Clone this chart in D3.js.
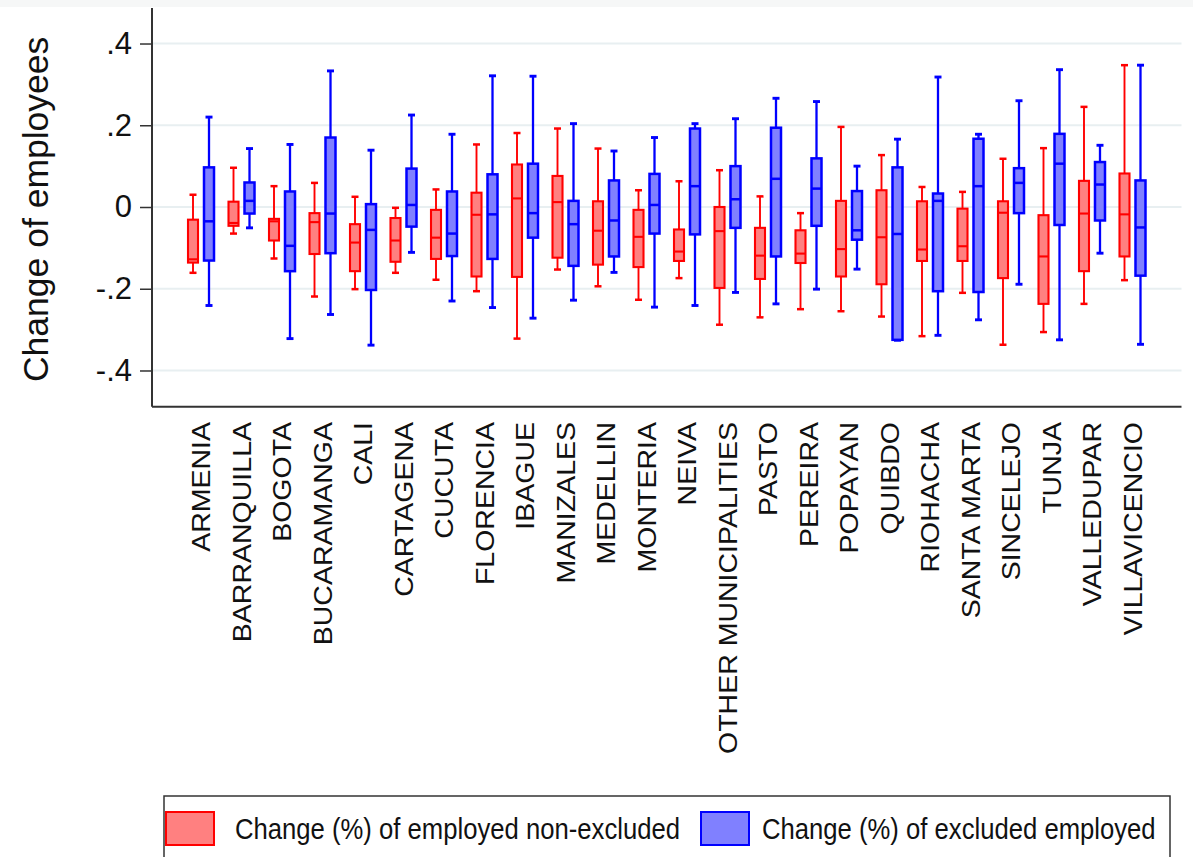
<!DOCTYPE html>
<html>
<head>
<meta charset="utf-8">
<script src="https://cdn.jsdelivr.net/npm/d3@7"></script>
<style>
  body { margin: 0; background: #ffffff; }
  svg { display: block; }
  text { font-family: "Liberation Sans", Arial, sans-serif; fill: #111111; }
</style>
</head>
<body>
<svg id="chart" width="1193" height="857"></svg>
<script>
// Cities (and the rest of the country) on the x axis
const categories = [
  "ARMENIA", "BARRANQUILLA", "BOGOTA", "BUCARAMANGA", "CALI", "CARTAGENA",
  "CUCUTA", "FLORENCIA", "IBAGUE", "MANIZALES", "MEDELLIN", "MONTERIA",
  "NEIVA", "OTHER MUNICIPALITIES", "PASTO", "PEREIRA", "POPAYAN", "QUIBDO",
  "RIOHACHA", "SANTA MARTA", "SINCELEJO", "TUNJA", "VALLEDUPAR", "VILLAVICENCIO"
];

// Change (%) of employed non-excluded: upper whisker, Q3, median, Q1, lower whisker
const nonExclHigh = [0.030, 0.096, 0.051, 0.059, 0.025, -0.002, 0.043, 0.153, 0.181, 0.192, 0.143, 0.041,
                     0.063, 0.090, 0.026, -0.015, 0.196, 0.127, 0.049, 0.037, 0.118, 0.144, 0.245, 0.347];
const nonExclQ3   = [-0.031, 0.013, -0.029, -0.015, -0.042, -0.027, -0.007, 0.035, 0.104, 0.076, 0.014, -0.007,
                     -0.055, 0.000, -0.051, -0.057, 0.015, 0.041, 0.014, -0.004, 0.014, -0.020, 0.064, 0.082];
const nonExclMed  = [-0.128, -0.039, -0.035, -0.037, -0.087, -0.082, -0.075, -0.019, 0.021, 0.012, -0.058, -0.073,
                     -0.109, -0.059, -0.119, -0.114, -0.103, -0.074, -0.104, -0.096, -0.014, -0.121, -0.016, -0.018];
const nonExclQ1   = [-0.136, -0.046, -0.082, -0.115, -0.157, -0.134, -0.127, -0.170, -0.171, -0.124, -0.141, -0.147,
                     -0.132, -0.198, -0.176, -0.137, -0.170, -0.189, -0.132, -0.132, -0.174, -0.237, -0.157, -0.121];
const nonExclLow  = [-0.161, -0.065, -0.126, -0.219, -0.201, -0.161, -0.178, -0.206, -0.322, -0.153, -0.194, -0.227,
                     -0.174, -0.288, -0.270, -0.250, -0.255, -0.268, -0.316, -0.210, -0.337, -0.306, -0.237, -0.179];

// Change (%) of excluded employed: upper whisker, Q3, median, Q1, lower whisker
const exclHigh = [0.220, 0.143, 0.153, 0.333, 0.139, 0.225, 0.178, 0.321, 0.320, 0.204, 0.137, 0.170,
                  0.204, 0.216, 0.266, 0.258, 0.100, 0.166, 0.318, 0.178, 0.260, 0.336, 0.151, 0.347];
const exclQ3   = [0.097, 0.060, 0.038, 0.170, 0.007, 0.094, 0.038, 0.080, 0.106, 0.015, 0.065, 0.081,
                  0.192, 0.100, 0.194, 0.119, 0.039, 0.097, 0.033, 0.167, 0.095, 0.179, 0.110, 0.065];
const exclMed  = [-0.035, 0.015, -0.095, -0.016, -0.056, 0.005, -0.065, -0.018, -0.015, -0.042, -0.033, 0.005,
                  0.051, 0.019, 0.069, 0.045, -0.057, -0.066, 0.015, 0.051, 0.059, 0.106, 0.055, -0.050];
const exclQ1   = [-0.131, -0.016, -0.157, -0.113, -0.203, -0.048, -0.120, -0.127, -0.075, -0.144, -0.121, -0.065,
                  -0.067, -0.051, -0.121, -0.046, -0.080, -0.325, -0.206, -0.208, -0.015, -0.044, -0.033, -0.168];
const exclLow  = [-0.241, -0.051, -0.322, -0.263, -0.338, -0.111, -0.230, -0.246, -0.272, -0.228, -0.160, -0.245,
                  -0.241, -0.209, -0.237, -0.201, -0.152, -0.326, -0.314, -0.276, -0.189, -0.325, -0.113, -0.336];

// Y axis ticks and their labels
const yTicks = [-0.4, -0.2, 0, 0.2, 0.4];
const yTickLabels = ["-.4", "-.2", "0", ".2", ".4"];

const seriesNames = ["Change (%) of employed non-excluded", "Change (%) of excluded employed"];
const yTitle = "Change of employees";

const series = [
  { name: seriesNames[0], stroke: "#ff0000", fill: "#ff8080", offset: -8, sw: 1.9,
    high: nonExclHigh, q3: nonExclQ3, med: nonExclMed, q1: nonExclQ1, low: nonExclLow },
  { name: seriesNames[1], stroke: "#0000ff", fill: "#8080ff", offset: 8, sw: 2.3,
    high: exclHigh, q3: exclQ3, med: exclMed, q1: exclQ1, low: exclLow }
];

const svg = d3.select("#chart");
const plot = { left: 152, right: 1181.5, top: 8, bottom: 406.7 };

const x = d3.scalePoint().domain(categories).range([plot.left, plot.right]).padding(1.21);
const y = d3.scaleLinear().domain([-0.4886, 0.4869]).range([plot.bottom, plot.top]);

// light band at the very top of the graph region
svg.append("rect").attr("x", 0).attr("y", 0).attr("width", 1193).attr("height", 7).attr("fill", "#f6f7f7");

// horizontal grid lines
svg.append("g").selectAll("line").data(yTicks).join("line")
  .attr("x1", plot.left).attr("x2", plot.right)
  .attr("y1", d => y(d)).attr("y2", d => y(d))
  .attr("stroke", "#e8eff1").attr("stroke-width", 2);

// box plots: whiskers with caps, box from Q1 to Q3, median line
const boxW = 10, capW = 7;
series.forEach(s => {
  const g = svg.append("g");
  categories.forEach((c, i) => {
    const cx = x(c) + s.offset;
    g.append("line").attr("x1", cx).attr("x2", cx).attr("y1", y(s.high[i])).attr("y2", y(s.q3[i]))
      .attr("stroke", s.stroke).attr("stroke-width", s.sw);
    g.append("line").attr("x1", cx).attr("x2", cx).attr("y1", y(s.q1[i])).attr("y2", y(s.low[i]))
      .attr("stroke", s.stroke).attr("stroke-width", s.sw);
    [s.high[i], s.low[i]].forEach(v => {
      g.append("line").attr("x1", cx - capW / 2).attr("x2", cx + capW / 2)
        .attr("y1", y(v)).attr("y2", y(v))
        .attr("stroke", s.stroke).attr("stroke-width", s.sw + 0.6);
    });
    g.append("rect").attr("x", cx - boxW / 2).attr("width", boxW)
      .attr("y", y(s.q3[i])).attr("height", Math.max(1, y(s.q1[i]) - y(s.q3[i])))
      .attr("fill", s.fill).attr("stroke", s.stroke).attr("stroke-width", s.sw + 0.2);
    g.append("line").attr("x1", cx - boxW / 2).attr("x2", cx + boxW / 2)
      .attr("y1", y(s.med[i])).attr("y2", y(s.med[i]))
      .attr("stroke", s.stroke).attr("stroke-width", s.sw + 0.2);
  });
});

// y axis
const yAxis = svg.append("g").attr("transform", `translate(${plot.left},0)`)
  .call(d3.axisLeft(y).tickValues(yTicks).tickFormat((d, i) => yTickLabels[i]).tickSize(12).tickPadding(8));
yAxis.select(".domain").remove();
yAxis.selectAll(".tick line").attr("stroke", "#333").attr("stroke-width", 1.5);
yAxis.selectAll(".tick text").attr("font-size", 31).attr("fill", "#111")
  .attr("font-family", "Liberation Sans, Arial, sans-serif");

// axis lines
svg.append("line").attr("x1", plot.left).attr("x2", plot.left).attr("y1", plot.top).attr("y2", plot.bottom)
  .attr("stroke", "#333").attr("stroke-width", 2);
svg.append("line").attr("x1", plot.left).attr("x2", plot.right).attr("y1", plot.bottom).attr("y2", plot.bottom)
  .attr("stroke", "#333").attr("stroke-width", 2);

// y title
svg.append("text").attr("transform", `translate(48,${(plot.top + plot.bottom) / 2 + 2}) rotate(-90)`)
  .attr("text-anchor", "middle").attr("font-size", 35.5).text(yTitle);

// x category labels, rotated
svg.append("g").selectAll("text").data(categories).join("text")
  .attr("transform", d => `translate(${x(d)},422) rotate(-90) scale(1,0.9)`)
  .attr("text-anchor", "end").attr("dy", "0.36em").attr("font-size", 28.5)
  .text(d => d);

// legend
const legend = svg.append("g");
legend.append("rect").attr("x", 164).attr("y", 796).attr("width", 1006).attr("height", 80)
  .attr("fill", "#fff").attr("stroke", "#333").attr("stroke-width", 1.5);
const swatchX = [166, 701];
const labelX = [235, 762];
series.forEach((s, i) => {
  legend.append("rect").attr("x", swatchX[i]).attr("y", 812).attr("width", 48).attr("height", 33)
    .attr("fill", s.fill).attr("stroke", s.stroke).attr("stroke-width", 2);
  legend.append("text").attr("transform", `translate(${labelX[i]},839) scale(0.885,1)`)
    .attr("font-size", 29).text(s.name);
});
</script>
</body>
</html>
